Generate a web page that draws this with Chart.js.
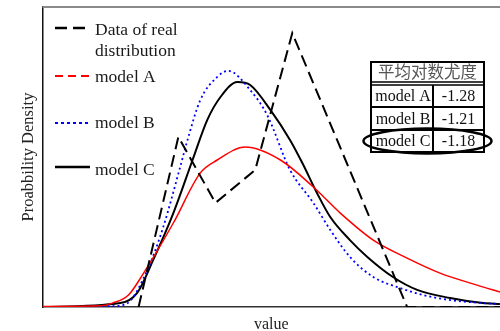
<!DOCTYPE html>
<html>
<head>
<meta charset="utf-8">
<script src="https://cdn.jsdelivr.net/npm/chart.js@4.4.1/dist/chart.umd.min.js"></script>
<style>
    html, body { margin: 0; padding: 0; background: #fff; }
    #wrap { width: 500px; height: 331px; }
</style>
</head>
<body>
<div id="wrap"><canvas id="densityChart" width="500" height="331"></canvas></div>
<script>
// Series data (x = value 0-100, y = density 0-100, 100 = top of plot)
const realX = [21.0, 29.7, 37.8, 46.5, 54.6, 79.7, 100];
const realY = [0, 56.7, 34.7, 45.7, 91.3, 0, 0];

const modelAX = [0, 12.7, 15.3, 18.8, 22.1, 28.6, 34.5, 38.2, 44.3, 52.0, 59.2, 65.1, 72.3, 79.7, 86.9, 95.0, 100];
const modelAY = [0.2, 0.4, 1.3, 4, 11.3, 28, 44.7, 49, 53.3, 49, 40, 31.3, 22.3, 16.3, 11.3, 7.3, 5];

const modelBX = [0, 15.5, 18.6, 22.9, 26.4, 30.1, 31.7, 34.5, 38.2, 40.6, 45.4, 49.1, 54.1, 59.2, 62.9, 67.2, 72.3, 78.2, 83.2, 89.1, 96.3, 100];
const modelBY = [0, 0.3, 1.3, 12.3, 26.7, 46.7, 55.7, 69, 76.7, 78.7, 72.3, 64, 45.7, 34.7, 25.7, 16.7, 10, 6.3, 4, 2.3, 1.3, 1];

const modelCX = [0, 17.0, 20.7, 24.2, 28.6, 32.8, 36.0, 38.9, 42.6, 45.4, 49.8, 54.1, 56.8, 60.0, 62.9, 67.2, 71.0, 76.6, 81.9, 89.1, 96.3, 100];
const modelCY = [0, 1.3, 4.7, 15.7, 31.3, 49, 62.3, 70, 75, 74, 65.7, 55.7, 48, 38, 30, 22.3, 16.7, 10, 5.7, 3, 1.3, 1];

const seriesNames = [['Data of real', 'distribution'], 'model A', 'model B', 'model C'];

// Score table
const tableTitle = '平均对数尤度';
const tableModels = ['model A', 'model B', 'model C'];
const tableScores = ['-1.28', '-1.21', '-1.18'];

const serif = '"Liberation Serif", "Times New Roman", serif';

function toPoints(xs, ys) {
    return xs.map((x, i) => ({ x: x, y: ys[i] }));
}

// Legend, frame line, score table
const overlayPlugin = {
    id: 'overlay',
    afterDraw(chart) {
        const ctx = chart.ctx;
        const area = chart.chartArea;
        ctx.save();

        // grey top frame
        ctx.strokeStyle = '#8a8a8a';
        ctx.lineWidth = 2;
        ctx.beginPath();
        ctx.moveTo(area.left, area.top);
        ctx.lineTo(area.right, area.top);
        ctx.stroke();

        // legend
        const lineYs = [28, 76, 123, 167];
        const textYs = [[35, 56], [82], [128], [175]];
        ctx.font = '17.5px ' + serif;
        ctx.fillStyle = '#1a1a1a';
        ctx.textBaseline = 'alphabetic';
        ctx.textAlign = 'left';
        chart.data.datasets.forEach((ds, i) => {
            ctx.strokeStyle = ds.borderColor;
            ctx.lineWidth = ds.legendWidth;
            ctx.setLineDash(ds.legendDash);
            ctx.beginPath();
            ctx.moveTo(55, lineYs[i]);
            ctx.lineTo(90, lineYs[i]);
            ctx.stroke();
            const lines = Array.isArray(seriesNames[i]) ? seriesNames[i] : [seriesNames[i]];
            lines.forEach((t, j) => ctx.fillText(t, 95, textYs[i][j]));
        });
        ctx.setLineDash([]);

        // table
        const left = 371, right = 484, mid = 433, top = 62;
        const rows = [85, 107, 130, 152];
        ctx.strokeStyle = '#000';
        ctx.lineWidth = 2;
        ctx.strokeRect(left, top, right - left, rows[3] - top);
        ctx.lineWidth = 1.5;
        ctx.beginPath();
        ctx.moveTo(left, 82); ctx.lineTo(right, 82);
        ctx.moveTo(left, rows[0]); ctx.lineTo(right, rows[0]);
        ctx.stroke();
        ctx.lineWidth = 2;
        ctx.beginPath();
        ctx.moveTo(left, rows[1]); ctx.lineTo(right, rows[1]);
        ctx.moveTo(left, rows[2]); ctx.lineTo(right, rows[2]);
        ctx.moveTo(mid, rows[0]); ctx.lineTo(mid, rows[3]);
        ctx.stroke();

        ctx.textAlign = 'center';
        ctx.textBaseline = 'middle';
        ctx.fillStyle = '#555';
        ctx.font = '16.5px "Noto Sans CJK SC", sans-serif';
        ctx.fillText(tableTitle, (left + right) / 2, 72);
        ctx.fillStyle = '#111';
        ctx.font = '16px ' + serif;
        tableModels.forEach((m, i) => {
            const cy = (rows[i] + rows[i + 1]) / 2 + 1;
            ctx.fillText(m, (left + mid) / 2 + 1, cy);
            ctx.fillText(tableScores[i], (mid + right) / 2, cy);
        });

        // highlight ellipse around best model
        ctx.lineWidth = 2.5;
        ctx.strokeStyle = '#000';
        ctx.beginPath();
        ctx.ellipse(427.5, 141, 64, 12.5, 0, 0, Math.PI * 2);
        ctx.stroke();

        ctx.restore();
    }
};

document.addEventListener('DOMContentLoaded', () => {
    const ctx = document.getElementById('densityChart').getContext('2d');
    new Chart(ctx, {
        type: 'line',
        data: {
            datasets: [{
                label: 'Data of real distribution',
                data: toPoints(realX, realY),
                borderColor: '#000',
                borderWidth: 2,
                borderDash: [12, 6],
                tension: 0,
                legendWidth: 2.5,
                legendDash: [12, 6]
            }, {
                label: 'model A',
                data: toPoints(modelAX, modelAY),
                borderColor: '#ff0000',
                borderWidth: 1.5,
                cubicInterpolationMode: 'monotone',
                legendWidth: 1.8,
                legendDash: [8, 5]
            }, {
                label: 'model B',
                data: toPoints(modelBX, modelBY),
                borderColor: '#0000ff',
                borderWidth: 1.8,
                borderDash: [2, 3],
                cubicInterpolationMode: 'monotone',
                legendWidth: 2,
                legendDash: [3, 3]
            }, {
                label: 'model C',
                data: toPoints(modelCX, modelCY),
                borderColor: '#000',
                borderWidth: 2,
                cubicInterpolationMode: 'monotone',
                legendWidth: 2.5,
                legendDash: []
            }]
        },
        options: {
            responsive: false,
            animation: false,
            devicePixelRatio: 1,
            layout: { padding: { top: 7, right: 0, bottom: 8, left: 0 } },
            elements: { point: { radius: 0 } },
            scales: {
                x: {
                    type: 'linear',
                    min: 0,
                    max: 100,
                    grid: { display: false, drawTicks: false },
                    border: { display: true, color: '#333', width: 1.5 },
                    ticks: { display: false },
                    title: {
                        display: true,
                        text: 'value',
                        color: '#222',
                        font: { family: serif, size: 16, lineHeight: 1 },
                        padding: { top: 10, bottom: -10 }
                    }
                },
                y: {
                    min: 0,
                    max: 100,
                    grid: { display: false, drawTicks: false },
                    border: { display: true, color: '#111', width: 1.5 },
                    ticks: { display: false },
                    title: {
                        display: true,
                        text: 'Proabbility Density',
                        color: '#222',
                        font: { family: serif, size: 16.5, lineHeight: 1 },
                        padding: { top: 20, bottom: 6 }
                    }
                }
            },
            plugins: {
                legend: { display: false },
                tooltip: { enabled: false }
            }
        },
        plugins: [overlayPlugin]
    });
});
</script>
</body>
</html>
